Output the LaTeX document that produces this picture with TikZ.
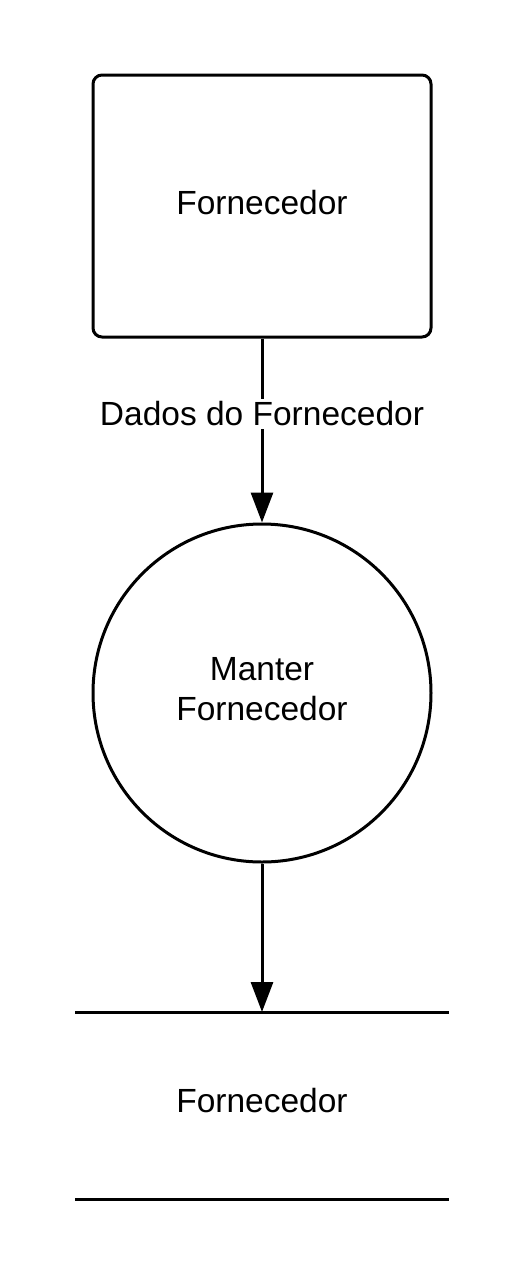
\documentclass[tikz,border=0pt]{standalone}
\usepackage{fontspec}
\setmainfont{Liberation Sans}
\usetikzlibrary{arrows.meta}
\begin{document}
\begin{tikzpicture}[x=1pt,y=-1pt,
  lbl/.style={font=\fontsize{33.5}{40}\selectfont, align=center, inner sep=2pt},
  entity/.style={draw, line width=3pt, rounded corners=9pt, minimum width=338pt, minimum height=262pt, text depth=8pt},
  proc/.style={draw, circle, line width=3pt, minimum size=338pt},
  flow/.style={line width=3pt, -{Triangle[width=22pt,length=30pt]}},
  storeline/.style={line width=3pt}]
\useasboundingbox (0,0) rectangle (525,1275);
\node[entity, lbl] (ent) at (262,206) {Fornecedor};
\node[proc, lbl, text depth=8pt] (proc) at (262,693) {Manter\\Fornecedor};
\coordinate (sl1) at (75,1012);
\coordinate (sr1) at (449,1012);
\coordinate (sl2) at (75,1199);
\coordinate (sr2) at (449,1199);
\coordinate (stop) at (262,1012);
\draw[storeline] (sl1) -- (sr1);
\draw[storeline] (sl2) -- (sr2);
\node[lbl] (store) at (262,1101) {Fornecedor};
\draw[flow] (ent.south) -- node[lbl, fill=white, inner sep=3pt, pos=0.41] (dlbl) {Dados do Fornecedor} (proc.north);
\draw[flow] (proc.south) -- (stop);
\end{tikzpicture}
\end{document}
